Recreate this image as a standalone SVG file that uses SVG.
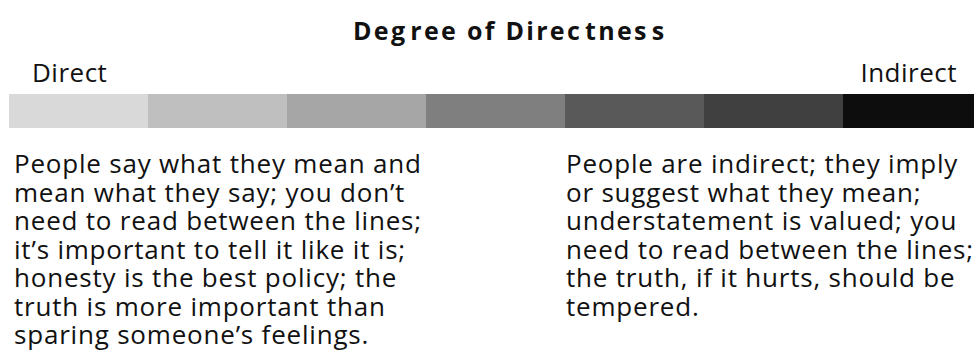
<svg xmlns="http://www.w3.org/2000/svg" width="974" height="352" viewBox="0 0 974 352">
  <style>
    .title { font-family: "Open Sans", "Liberation Sans", sans-serif; font-weight: 700; font-size: 25px; fill: #111; letter-spacing: 2.3px; }
    .end { font-family: "Open Sans", "Liberation Sans", sans-serif; font-size: 26px; fill: #111; letter-spacing: 0.5px; }
    .body { font-family: "Open Sans", "Liberation Sans", sans-serif; font-size: 26px; fill: #111; letter-spacing: 0.8px; }
  </style>
  <rect width="974" height="352" fill="#ffffff"/>

  <!-- heading, with the slightly uneven glyph gaps of the printed title -->
  <g id="title">
    <text class="title" x="353" y="40">Deg<tspan dx="3">ree</tspan> of Direc<tspan dx="3">tnes</tspan><tspan dx="3">s</tspan></text>
  </g>

  <g id="scale-labels">
    <text class="end" x="32" y="82">Direct</text>
    <text class="end" x="957" y="82" text-anchor="end">Indirect</text>
  </g>

  <!-- seven-step grey scale, light (direct) to dark (indirect) -->
  <g id="scale-bar">
    <rect x="9" y="94" width="139" height="34" fill="#d9d9d9"/>
    <rect x="148" y="94" width="139" height="34" fill="#bfbfbf"/>
    <rect x="287" y="94" width="139" height="34" fill="#a6a6a6"/>
    <rect x="426" y="94" width="139" height="34" fill="#7f7f7f"/>
    <rect x="565" y="94" width="139" height="34" fill="#595959"/>
    <rect x="704" y="94" width="139" height="34" fill="#404040"/>
    <rect x="843" y="94" width="131" height="34" fill="#0d0d0d"/>
  </g>

  <g id="direct-description">
    <text class="body" x="14">
      <tspan x="14" y="173">People say what they mean and</tspan>
      <tspan x="14" y="201.5">mean what they say; you don’t</tspan>
      <tspan x="14" y="230">need to read between the lines;</tspan>
      <tspan x="14" y="258.5">it’s important to tell it like it is;</tspan>
      <tspan x="14" y="287">honesty is the best policy; the</tspan>
      <tspan x="14" y="315.5">truth is more important than</tspan>
      <tspan x="14" y="344">sparing someone’s feelings.</tspan>
    </text>
  </g>

  <g id="indirect-description">
    <text class="body" x="566">
      <tspan x="566" y="173">People are indirect; they imply</tspan>
      <tspan x="566" y="201.5">or suggest what they mean;</tspan>
      <tspan x="566" y="230">understatement is valued; you</tspan>
      <tspan x="566" y="258.5">need to read between the lines;</tspan>
      <tspan x="566" y="287">the truth, if it hurts, should be</tspan>
      <tspan x="566" y="315.5">tempered.</tspan>
    </text>
  </g>
</svg>
